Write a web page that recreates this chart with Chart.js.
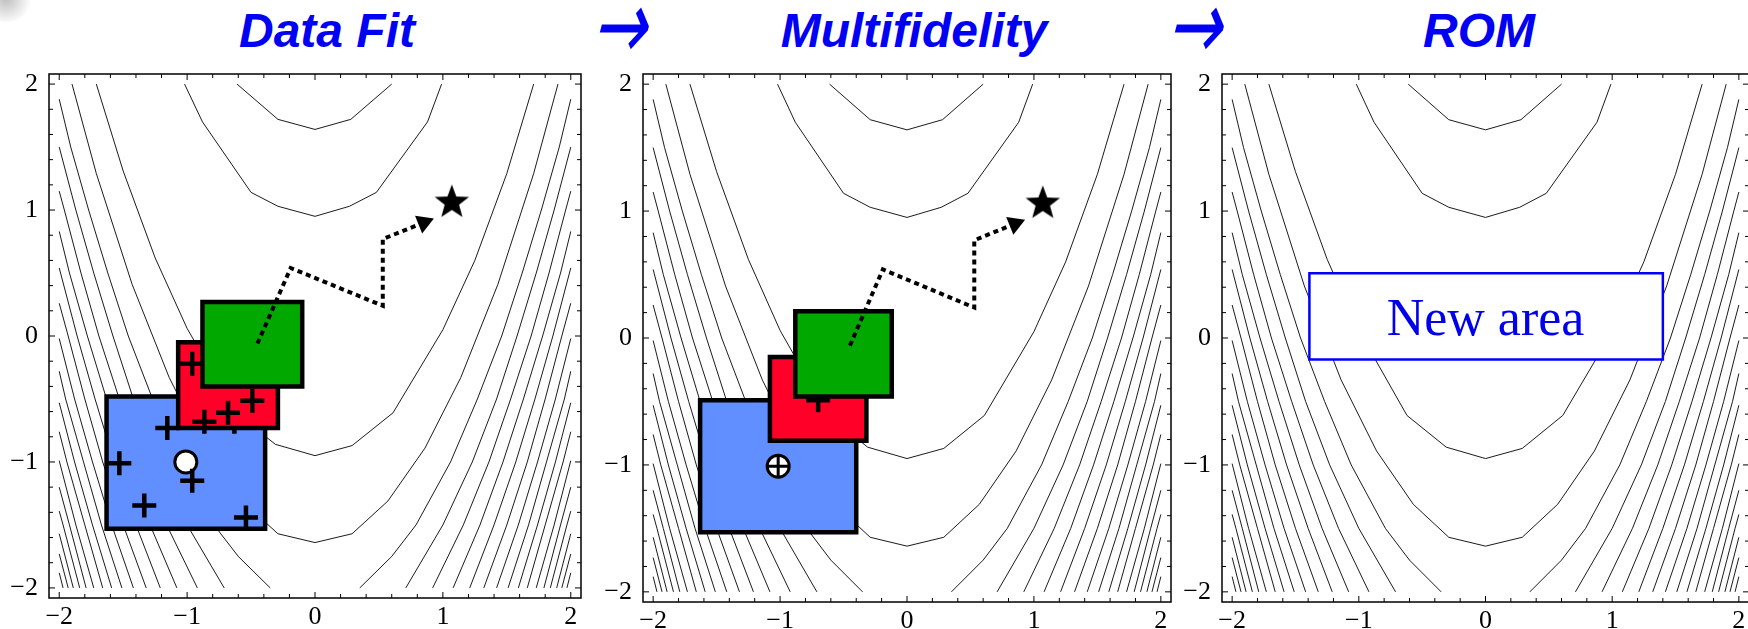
<!DOCTYPE html>
<html>
<head>
<meta charset="utf-8">
<script src="https://cdn.jsdelivr.net/npm/chart.js@4.4.1/dist/chart.umd.min.js"></script>
<style>
html, body { margin: 0; padding: 0; background: #fff; width: 1748px; height: 629px; overflow: hidden; position: relative; }
canvas { position: absolute; }
.title { position: absolute; top: 7px; font: italic bold 48px "Liberation Sans", Arial, sans-serif; color: #0000f5; line-height: 48px; white-space: nowrap; transform: translateX(-50%); }
.arrow { position: absolute; top: -2px; font: 50px "DejaVu Sans", sans-serif; color: #0000f5; line-height: 56px; white-space: nowrap; transform: translateX(-50%) skewX(-14deg) scale(1.3, 1.95); }
#newArea { position: absolute; font: 52px "Liberation Serif", "Times New Roman", serif; color: #0000ee; line-height: 52px; white-space: nowrap; transform: translateX(-50%); }
#corner { position: absolute; left: -22px; top: -24px; width: 56px; height: 46px; border-radius: 50%; background: radial-gradient(circle, rgba(140,140,140,0.55), rgba(220,220,220,0) 70%); }
</style>
</head>
<body>
<div id="corner"></div>
<div class="title" style="left:327px">Data Fit</div>
<div class="arrow" style="left:625px">→</div>
<div class="title" style="left:914px">Multifidelity</div>
<div class="arrow" style="left:1200px">→</div>
<div class="title" style="left:1479px">ROM</div>

<canvas id="fitChart" width="600" height="579" style="left:0px;top:50px"></canvas>
<canvas id="mfChart" width="590" height="579" style="left:600px;top:50px"></canvas>
<canvas id="romChart" width="580" height="579" style="left:1180px;top:50px"></canvas>
<div id="newArea">New area</div>

<script>
// axis ticks
const tickLabels = [-2, -1, 0, 1, 2];
const minorTicks = [-2, -1.8, -1.6, -1.4, -1.2, -1, -0.8, -0.6, -0.4, -0.2, 0,
    0.2, 0.4, 0.6, 0.8, 1, 1.2, 1.4, 1.6, 1.8, 2];

// contour lines (same background in all three panels)
const valleyArcs = [
    [[-0.61, 2], [-0.29, 1.72], [0, 1.64], [0.28, 1.72], [0.60, 2]],
    [[-1.02, 2], [-0.88, 1.70], [-0.50, 1.14], [-0.29, 1.03], [0, 0.95], [0.27, 1.03], [0.48, 1.14], [0.88, 1.70], [0.99, 2]],
    [[-1.71, 2], [-1.5, 1.31], [-1.25, 0.62], [-1.0, 0.06], [-0.62, -0.61], [-0.31, -0.86], [0, -0.95], [0.29, -0.87], [0.61, -0.61], [1.0, 0.05], [1.25, 0.6], [1.5, 1.29], [1.71, 2]],
    [[-1.9, 2], [-1.71, 1.29], [-1.43, 0.41], [-1.14, -0.33], [-0.86, -0.89], [-0.57, -1.31], [-0.29, -1.57], [0, -1.64], [0.29, -1.57], [0.57, -1.31], [0.86, -0.89], [1.14, -0.33], [1.43, 0.41], [1.71, 1.29], [1.9, 2]]
];

const leftWalls = [
    [[-0.35, -2], [-0.60, -1.75], [-0.79, -1.5], [-1.06, -1], [-1.27, -0.5], [-1.46, 0], [-1.62, 0.5], [-1.77, 1], [-1.91, 1.5], [-2, 1.88]],
    [[-0.71, -2], [-1.0, -1.5], [-1.23, -1], [-1.42, -0.5], [-1.58, 0], [-1.73, 0.5], [-1.87, 1], [-2, 1.5]],
    [[-0.92, -2], [-1.16, -1.5], [-1.36, -1], [-1.53, -0.5], [-1.69, 0], [-1.83, 0.5], [-1.96, 1], [-2, 1.15]],
    [[-1.08, -2], [-1.29, -1.5], [-1.47, -1], [-1.63, -0.5], [-1.78, 0], [-1.92, 0.5], [-2, 0.83]],
    [[-1.21, -2], [-1.40, -1.5], [-1.57, -1], [-1.72, -0.5], [-1.86, 0], [-2, 0.54]],
    [[-1.32, -2], [-1.50, -1.5], [-1.66, -1], [-1.80, -0.5], [-1.93, 0], [-2, 0.26]],
    [[-1.42, -2], [-1.59, -1.5], [-1.74, -1], [-1.88, -0.5], [-2, -0.02]],
    [[-1.51, -2], [-1.67, -1.5], [-1.81, -1], [-1.95, -0.5], [-2, -0.28]],
    [[-1.59, -2], [-1.74, -1.5], [-1.88, -1], [-2, -0.53]],
    [[-1.66, -2], [-1.80, -1.5], [-1.94, -1], [-2, -0.76]],
    [[-1.73, -2], [-1.87, -1.5], [-2, -0.99]],
    [[-1.79, -2], [-1.92, -1.5], [-2, -1.2]],
    [[-1.84, -2], [-1.97, -1.5], [-2, -1.39]],
    [[-1.89, -2], [-2, -1.57]],
    [[-1.93, -2], [-2, -1.73]],
    [[-1.97, -2], [-2, -1.88]]
];

const rightWalls = [
    [[0.35, -2], [0.60, -1.75], [0.79, -1.5], [1.06, -1], [1.27, -0.5], [1.46, 0], [1.62, 0.5], [1.77, 1], [1.91, 1.5], [2, 1.88]],
    [[0.71, -2], [1.0, -1.5], [1.23, -1], [1.42, -0.5], [1.58, 0], [1.73, 0.5], [1.87, 1], [2, 1.5]],
    [[0.92, -2], [1.16, -1.5], [1.36, -1], [1.53, -0.5], [1.69, 0], [1.83, 0.5], [1.96, 1], [2, 1.15]],
    [[1.08, -2], [1.29, -1.5], [1.47, -1], [1.63, -0.5], [1.78, 0], [1.92, 0.5], [2, 0.83]],
    [[1.21, -2], [1.40, -1.5], [1.57, -1], [1.72, -0.5], [1.86, 0], [2, 0.54]],
    [[1.32, -2], [1.50, -1.5], [1.66, -1], [1.80, -0.5], [1.93, 0], [2, 0.26]],
    [[1.42, -2], [1.59, -1.5], [1.74, -1], [1.88, -0.5], [2, -0.02]],
    [[1.51, -2], [1.67, -1.5], [1.81, -1], [1.95, -0.5], [2, -0.28]],
    [[1.59, -2], [1.74, -1.5], [1.88, -1], [2, -0.53]],
    [[1.66, -2], [1.80, -1.5], [1.94, -1], [2, -0.76]],
    [[1.73, -2], [1.87, -1.5], [2, -0.99]],
    [[1.79, -2], [1.92, -1.5], [2, -1.2]],
    [[1.84, -2], [1.97, -1.5], [2, -1.39]],
    [[1.89, -2], [2, -1.57]],
    [[1.93, -2], [2, -1.73]],
    [[1.97, -2], [2, -1.88]]
];

// Data Fit panel
const fitBlueBox = [[-1.63, -0.48], [-0.39, -0.48], [-0.39, -1.53], [-1.63, -1.53]];
const fitRedBox = [[-1.07, -0.05], [-0.29, -0.05], [-0.29, -0.73], [-1.07, -0.73]];
const fitGreenBox = [[-0.88, 0.27], [-0.10, 0.27], [-0.10, -0.40], [-0.88, -0.40]];
const fitBluePoints = [[-1.53, -1.01], [-1.335, -1.345], [-0.54, -1.44], [-0.96, -1.15], [-1.155, -0.73], [-0.63, -0.68]];
const fitRedPoints = [[-0.96, -0.22], [-0.865, -0.68], [-0.68, -0.61], [-0.49, -0.515]];
const fitCenter = [[-1.01, -1.0]];

// Multifidelity panel
const mfBlueBox = [[-1.63, -0.49], [-0.40, -0.49], [-0.40, -1.53], [-1.63, -1.53]];
const mfRedBox = [[-1.08, -0.15], [-0.32, -0.15], [-0.32, -0.81], [-1.08, -0.81]];
const mfGreenBox = [[-0.88, 0.21], [-0.12, 0.21], [-0.12, -0.46], [-0.88, -0.46]];
const mfRedPoints = [[-0.70, -0.49]];
const mfCenter = [[-1.015, -1.01]];

// search path towards the optimum (both first panels)
const searchPath = [[-0.45, -0.06], [-0.19, 0.54], [0.53, 0.24], [0.53, 0.77], [0.85, 0.90]];
const arrowHead = [[0.85, 0.90]];
const optimum = [[1.07, 1.06]];

// ROM panel
const romBox = [[-1.39, 0.51], [1.40, 0.51], [1.40, -0.17], [-1.39, -0.17]];
const romLabelAt = [0, 0.02];

Chart.defaults.font.family = '"Liberation Serif", "Times New Roman", serif';
Chart.defaults.color = '#000';

const pts = a => a.map(([x, y]) => ({ x, y }));

function makeStar(r) {
    const c = document.createElement('canvas');
    c.width = c.height = 2 * r + 2;
    const g = c.getContext('2d');
    g.beginPath();
    for (let i = 0; i < 10; i++) {
        const rr = i % 2 ? r * 0.42 : r;
        const a = -Math.PI / 2 + i * Math.PI / 5;
        g.lineTo(r + 1 + rr * Math.cos(a), r + 1 + rr * Math.sin(a));
    }
    g.closePath();
    g.fillStyle = '#000';
    g.fill();
    return c;
}
const starImage = makeStar(18);

function contourSets() {
    return valleyArcs.concat(leftWalls, rightWalls).map(line => ({
        data: pts(line), showLine: true, borderColor: '#000', borderWidth: 0.9,
        pointRadius: 0, order: 100
    }));
}

function boxSet(corners, fillColor, lineColor, width, order) {
    return {
        data: pts(corners.concat([corners[0]])), showLine: true, fill: 'shape',
        backgroundColor: fillColor, borderColor: lineColor, borderWidth: width,
        borderJoinStyle: 'miter', borderCapStyle: 'square', pointRadius: 0, order
    };
}

function crossSet(points, order) {
    return {
        data: pts(points), showLine: false, pointStyle: 'cross', pointRadius: 12,
        pointBorderColor: '#000', pointBorderWidth: 4.5, order
    };
}

function circleSet(points, order) {
    return {
        data: pts(points), showLine: false, pointStyle: 'circle', pointRadius: 11,
        pointBackgroundColor: '#fff', pointBorderColor: '#000', pointBorderWidth: 3, order
    };
}

function pathSets() {
    return [
        { data: pts(searchPath), showLine: true, borderColor: '#000', borderWidth: 4,
          borderDash: [5, 4], borderCapStyle: 'butt', pointRadius: 0, order: 60 },
        { data: pts(arrowHead), showLine: false, pointStyle: 'triangle', pointRotation: 68,
          pointRadius: 11, pointBackgroundColor: '#000', pointBorderWidth: 0, order: 55 },
        { data: pts(optimum), showLine: false, pointStyle: starImage, pointRadius: 18, order: 50 }
    ];
}

// frame with inward ticks, like the original plots
const frameTicks = {
    id: 'frameTicks',
    afterDatasetsDraw(chart) {
        const { ctx, chartArea: a, scales: { x, y } } = chart;
        ctx.save();
        ctx.strokeStyle = '#000';
        ctx.lineWidth = 1.5;
        ctx.strokeRect(a.left, a.top, a.right - a.left, a.bottom - a.top);
        ctx.lineWidth = 1;
        ctx.beginPath();
        minorTicks.forEach(v => {
            const len = tickLabels.includes(v) ? 6 : 4;
            const px = x.getPixelForValue(v);
            const py = y.getPixelForValue(v);
            ctx.moveTo(px, a.bottom); ctx.lineTo(px, a.bottom - len);
            ctx.moveTo(px, a.top); ctx.lineTo(px, a.top + len);
            ctx.moveTo(a.left, py); ctx.lineTo(a.left + len, py);
            ctx.moveTo(a.right, py); ctx.lineTo(a.right - len, py);
        });
        ctx.stroke();
        ctx.restore();
    }
};

function axis(isX, size) {
    return {
        type: 'linear', min: -2.08, max: 2.08,
        grid: { display: false, drawTicks: false }, border: { display: false },
        afterBuildTicks: s => { s.ticks = tickLabels.map(v => ({ value: v })); },
        afterFit: s => { if (isX) s.height = size; else s.width = size; },
        ticks: {
            autoSkip: false, maxRotation: 0, padding: isX ? 6 : 11,
            font: { size: 26, lineHeight: 1 },
            callback: v => v < 0 ? '\u2212' + Math.abs(v) : String(v)
        }
    };
}

function panelChart(id, box, datasets, extra) {
    return new Chart(document.getElementById(id), {
        type: 'scatter',
        data: { datasets: contourSets().concat(datasets) },
        options: {
            responsive: false,
            animation: false,
            events: [],
            layout: { padding: { left: 0, top: box.top, right: box.right, bottom: 0 } },
            plugins: { legend: { display: false }, tooltip: { enabled: false } },
            scales: { x: axis(true, box.xh), y: axis(false, box.yw) }
        },
        plugins: [frameTicks].concat(extra || [])
    });
}

panelChart('fitChart', { top: 15, right: 17, xh: 31, yw: 49 }, [
    boxSet(fitBlueBox, '#628fff', '#000', 4.5, 90),
    circleSet(fitCenter, 86),
    crossSet(fitBluePoints, 85),
    boxSet(fitRedBox, '#ff0028', '#000', 4.5, 80),
    crossSet(fitRedPoints, 75),
    boxSet(fitGreenBox, '#00a800', '#000', 4.5, 70)
].concat(pathSets()));

panelChart('mfChart', { top: 24, right: 19, xh: 27, yw: 43 }, [
    boxSet(mfBlueBox, '#628fff', '#000', 4.5, 90),
    circleSet(mfCenter, 87),
    Object.assign(crossSet(mfCenter, 86), { pointRadius: 10, pointBorderWidth: 3 }),
    boxSet(mfRedBox, '#ff0028', '#000', 4.5, 80),
    crossSet(mfRedPoints, 75),
    boxSet(mfGreenBox, '#00a800', '#000', 4.5, 70)
].concat(pathSets()));

// place the "New area" text through the chart's own scales
const romLabel = {
    id: 'romLabel',
    afterRender(chart) {
        const el = document.getElementById('newArea');
        const c = chart.canvas;
        el.style.left = (c.offsetLeft + chart.scales.x.getPixelForValue(romLabelAt[0])) + 'px';
        el.style.top = (c.offsetTop + chart.scales.y.getPixelForValue(romLabelAt[1]) - 43.5) + 'px';
    }
};

panelChart('romChart', { top: 24, right: 11, xh: 27, yw: 42 }, [
    boxSet(romBox, '#fff', '#0000ff', 2.5, 50)
], [romLabel]);
</script>
</body>
</html>
